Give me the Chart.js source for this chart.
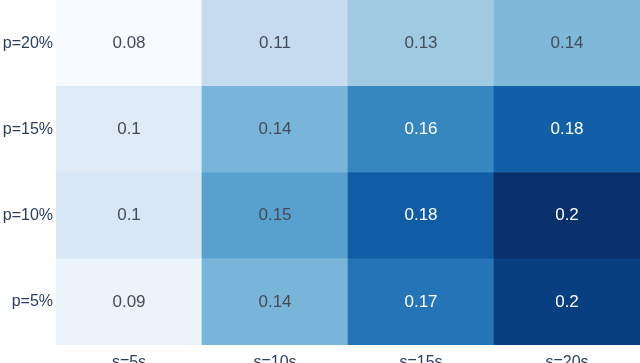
<!DOCTYPE html>
<html>
<head>
<meta charset="utf-8">
<script src="https://cdn.jsdelivr.net/npm/chart.js@4"></script>
<style>
  html, body { margin: 0; padding: 0; overflow: hidden; background: #fff; }
  #wrap { width: 640px; height: 375px; }
</style>
</head>
<body>
<div id="wrap"><canvas id="heat"></canvas></div>
<script>
// columns (x) and rows (y, bottom to top)
const columns = ["s=5s", "s=10s", "s=15s", "s=20s"];
const rows = ["p=5%", "p=10%", "p=15%", "p=20%"];

// cell values per row (estimated, shown rounded to 2 decimals)
const p5 = [0.0873, 0.137, 0.170, 0.1952];
const p10 = [0.0995, 0.148, 0.181, 0.202];
const p15 = [0.0953, 0.137, 0.1616, 0.180];
const p20 = [0.080, 0.1105, 0.1255, 0.1352];
const rowValues = [p5, p10, p15, p20];

const vmin = 0.08;
const vmax = 0.202;
const blues = ["#f7fbff", "#deebf7", "#c6dbef", "#9ecae1", "#6baed6",
               "#4292c6", "#2171b5", "#08519c", "#08306b"];

function hexToRgb(h) {
    return [parseInt(h.slice(1, 3), 16), parseInt(h.slice(3, 5), 16), parseInt(h.slice(5, 7), 16)];
}

function bluesColor(v) {
    let t = (v - vmin) / (vmax - vmin);
    t = Math.max(0, Math.min(1, t));
    const pos = t * (blues.length - 1);
    const i = Math.min(Math.floor(pos), blues.length - 2);
    const f = pos - i;
    const a = hexToRgb(blues[i]), b = hexToRgb(blues[i + 1]);
    const c = a.map((x, k) => Math.round(x + (b[k] - x) * f));
    return "rgb(" + c.join(",") + ")";
}

function fmt(v) {
    return String(Number(v.toFixed(2)));
}

const cellLabels = {
    id: "cellLabels",
    afterDatasetsDraw(chart) {
        const ctx = chart.ctx;
        ctx.save();
        ctx.font = "17px 'Liberation Sans', Arial, sans-serif";
        ctx.textAlign = "center";
        ctx.textBaseline = "middle";
        chart.data.datasets.forEach((ds, di) => {
            const meta = chart.getDatasetMeta(di);
            meta.data.forEach((el, i) => {
                const v = ds.cellValues[i];
                const t = (v - vmin) / (vmax - vmin);
                ctx.fillStyle = t > 0.62 ? "#ffffff" : "#454c59";
                ctx.fillText(fmt(v), el.x, (el.y + el.base) / 2);
            });
        });
        ctx.restore();
    }
};

const datasets = rows.map((r, ri) => ({
    label: r,
    data: columns.map(() => 1),
    cellValues: rowValues[ri],
    backgroundColor: rowValues[ri].map(bluesColor),
    borderWidth: 0,
    barPercentage: 1,
    categoryPercentage: 1,
}));

new Chart(document.getElementById("heat"), {
    type: "bar",
    data: { labels: columns, datasets: datasets },
    options: {
        responsive: true,
        maintainAspectRatio: false,
        animation: false,
        layout: { padding: 0 },
        plugins: {
            legend: { display: false },
            tooltip: { enabled: false }
        },
        scales: {
            x: {
                stacked: true,
                grid: { display: false },
                border: { display: false },
                ticks: {
                    color: "#2a3f5f",
                    padding: 0,
                    font: { family: "'Liberation Sans', Arial, sans-serif", size: 16 }
                },
                afterFit: (scale) => {
                    scale.height = 30;
                    scale.paddingLeft = 0;
                    scale.paddingRight = 0;
                }
            },
            y: {
                stacked: true,
                min: 0,
                max: 4,
                grid: { display: false, drawTicks: false },
                border: { display: false },
                afterBuildTicks: (scale) => {
                    scale.ticks = rows.map((r, i) => ({ value: i + 0.5 }));
                },
                ticks: {
                    color: "#2a3f5f",
                    padding: 3,
                    font: { family: "'Liberation Sans', Arial, sans-serif", size: 16 },
                    callback: (value) => rows[Math.floor(value)]
                },
                afterFit: (scale) => {
                    scale.width = 56;
                    scale.paddingTop = 0;
                    scale.paddingBottom = 0;
                }
            }
        }
    },
    plugins: [cellLabels]
});
</script>
</body>
</html>
